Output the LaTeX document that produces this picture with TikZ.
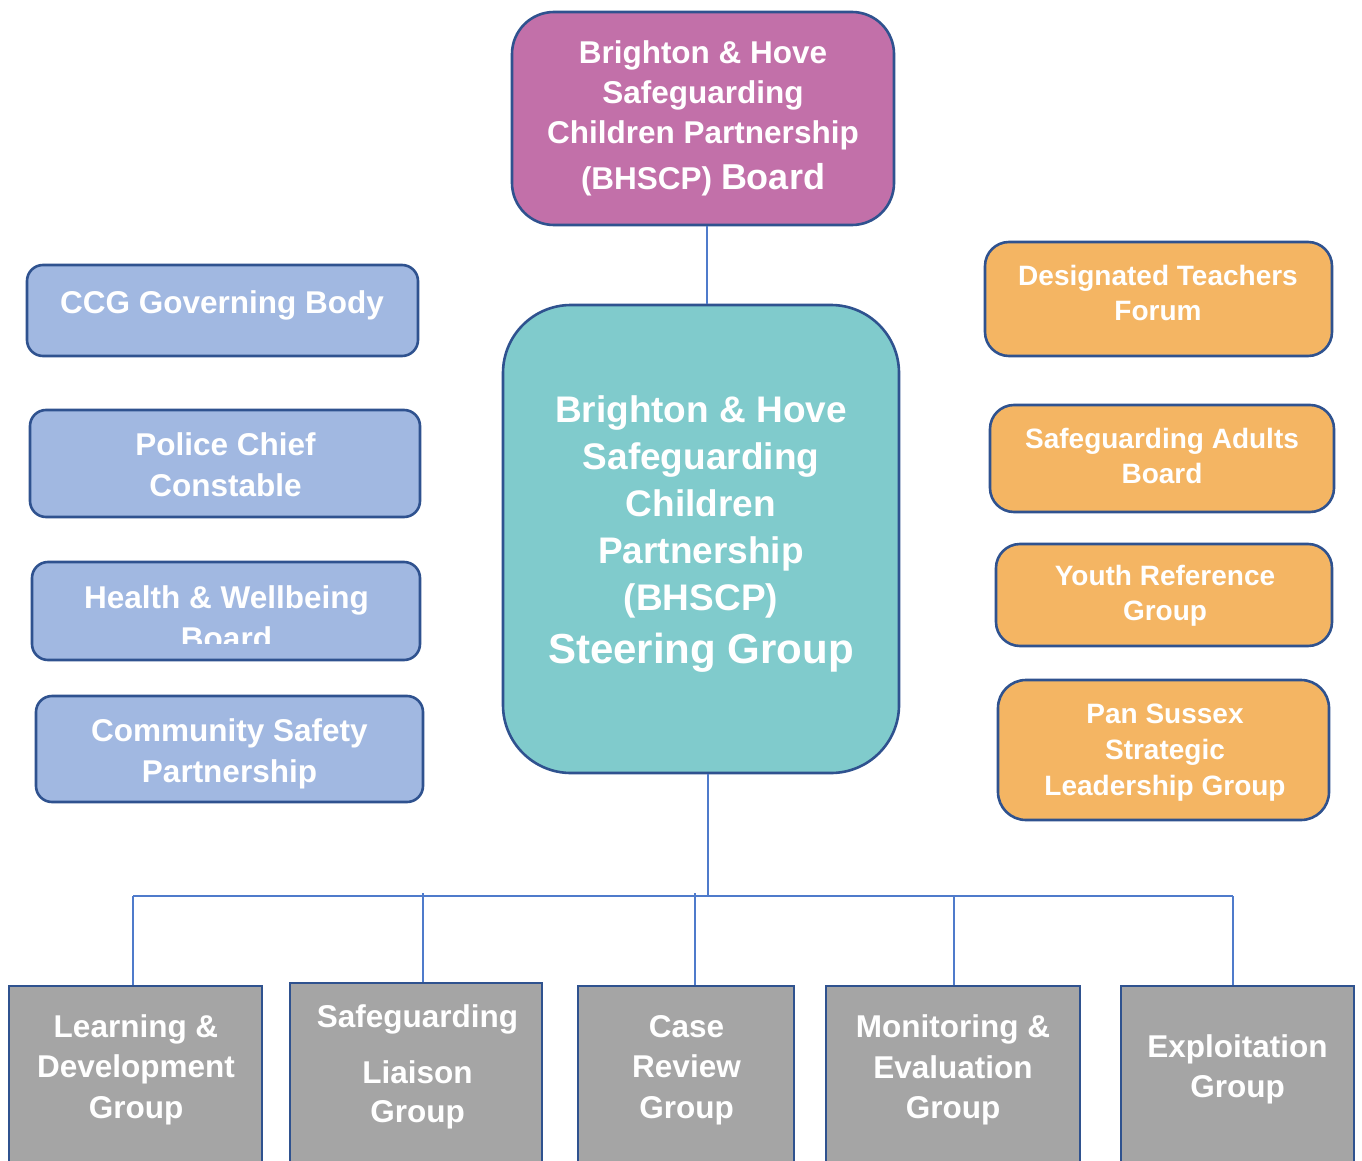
\documentclass[tikz,border=0pt]{standalone}
\usepackage{fontspec}
\setmainfont{Liberation Sans}
\definecolor{bord}{HTML}{2F528F}
\definecolor{conn}{HTML}{4F7BCB}
\definecolor{magf}{HTML}{C270A9}
\definecolor{tealf}{HTML}{80CBCC}
\definecolor{bluef}{HTML}{A1B8E1}
\definecolor{orf}{HTML}{F4B563}
\definecolor{grayf}{HTML}{A5A5A5}
\newcommand{\lns}[1]{\begin{tabular}[t]{@{}c@{}}#1\end{tabular}}
\begin{document}
\begin{tikzpicture}[x=1pt,y=-1pt,
  boxbase/.style={draw=bord, line width=2.6pt, inner sep=0pt},
  magbox/.style={boxbase, fill=magf, rounded corners=42pt},
  tealbox/.style={boxbase, fill=tealf, rounded corners=68pt},
  bluebox/.style={boxbase, fill=bluef, rounded corners=16pt},
  orbox/.style={boxbase, fill=orf, rounded corners=24pt},
  graybox/.style={boxbase, fill=grayf},
  txt/.style={text=white, inner sep=0pt, anchor=base},
  connline/.style={draw=conn, line width=1.4pt}
]
\useasboundingbox (0,0) rectangle (1362,1161);
\fill[white] (0,0) rectangle (1362,1161);

% connectors
\coordinate (j1) at (707,0);
\coordinate (hub) at (708,896);
\coordinate (d1) at (133,896);
\coordinate (d2) at (423,896);
\coordinate (d3) at (695,896);
\coordinate (d4) at (954,896);
\coordinate (d5) at (1233,896);

% boxes
\node[magbox, minimum width=382pt, minimum height=213pt] (board) at (703,118.5) {};
\node[tealbox, minimum width=396pt, minimum height=468pt] (steer) at (701,539) {};
\node[bluebox, minimum width=391pt, minimum height=91pt] (ccg) at (222.5,310.5) {};
\node[bluebox, minimum width=390pt, minimum height=107pt] (police) at (225,463.5) {};
\node[bluebox, minimum width=388pt, minimum height=98pt] (health) at (226,611) {};
\node[bluebox, minimum width=387pt, minimum height=106pt] (comm) at (229.5,749) {};
\node[orbox, minimum width=347pt, minimum height=114pt] (dtf) at (1158.5,299) {};
\node[orbox, minimum width=344pt, minimum height=107pt] (sab) at (1162,458.5) {};
\node[orbox, minimum width=336pt, minimum height=102pt] (yrg) at (1164,595) {};
\node[orbox, minimum width=331pt, minimum height=140pt, rounded corners=28pt] (pan) at (1163.5,750) {};
\node[graybox, minimum width=253pt, minimum height=184pt] (ld) at (135.5,1078) {};
\node[graybox, minimum width=252pt, minimum height=187pt] (sl) at (416,1076.5) {};
\node[graybox, minimum width=216pt, minimum height=184pt] (crg) at (686,1078) {};
\node[graybox, minimum width=254pt, minimum height=184pt] (me) at (953,1078) {};
\node[graybox, minimum width=233pt, minimum height=184pt] (ex) at (1237.5,1078) {};

% connector lines
\draw[connline] (board.south -| j1) -- (steer.north -| j1);
\draw[connline] (steer.south -| hub) -- (hub);
\draw[connline] (d1) -- (d5);
\draw[connline] (d1) -- (d1 |- ld.north);
\draw[connline] ([yshift=3pt]d2) -- (d2 |- sl.north);
\draw[connline] ([yshift=3pt]d3) -- (d3 |- crg.north);
\draw[connline] (d4) -- (d4 |- me.north);
\draw[connline] (d5) -- (d5 |- ex.north);

% texts
\node[txt, font={\bfseries\fontsize{31.5}{40}\selectfont}] (tboard) at (703,63.5)
  {\lns{Brighton \& Hove\\Safeguarding\\Children Partnership\\[6.5pt](BHSCP) {\fontsize{36}{40}\selectfont Board}}};
\node[txt, font={\bfseries\fontsize{37}{47}\selectfont}] (tsteer) at (701,422)
  {\lns{Brighton \& Hove\\Safeguarding\\Children\\Partnership\\(BHSCP)\\[6pt]{\fontsize{42}{47}\selectfont Steering Group}}};
\node[txt, font={\bfseries\fontsize{31.5}{41}\selectfont}] (tccg) at (222,313) {CCG Governing Body};
\node[txt, font={\bfseries\fontsize{31.5}{41}\selectfont}] (tpolice) at (225.5,455.5) {\lns{Police Chief\\Constable}};
\begin{scope}
\clip (30,560) rectangle (422,643.5);
\node[txt, font={\bfseries\fontsize{31.5}{41}\selectfont}] (thealth) at (226.5,608.5) {\lns{Health \& Wellbeing\\Board}};
\end{scope}
\node[txt, font={\bfseries\fontsize{31.5}{40.5}\selectfont}] (tcomm) at (229.5,741.5) {\lns{Community Safety\\Partnership}};
\node[txt, font={\bfseries\fontsize{28}{35.8}\selectfont}] (tdtf) at (1158,285) {\lns{Designated Teachers\\Forum}};
\node[txt, font={\bfseries\fontsize{28}{35.5}\selectfont}] (tsab) at (1162,448.3) {\lns{Safeguarding Adults\\Board}};
\node[txt, font={\bfseries\fontsize{28}{35.8}\selectfont}] (tyrg) at (1165,585) {\lns{Youth Reference\\Group}};
\node[txt, font={\bfseries\fontsize{28}{36}\selectfont}] (tpan) at (1165,723.3) {\lns{Pan Sussex\\Strategic\\Leadership Group}};
\node[txt, font={\bfseries\fontsize{31.5}{40.5}\selectfont}] (tld) at (136,1037) {\lns{Learning \&\\Development\\Group}};
\node[txt, font={\bfseries\fontsize{31.5}{39}\selectfont}] (tsl) at (417.5,1027) {\lns{Safeguarding\\[17pt]Liaison\\Group}};
\node[txt, font={\bfseries\fontsize{31.5}{40.5}\selectfont}] (tcrg) at (686.5,1037) {\lns{Case\\Review\\Group}};
\node[txt, font={\bfseries\fontsize{31.5}{40.5}\selectfont}] (tme) at (953,1037.5) {\lns{Monitoring \&\\Evaluation\\Group}};
\node[txt, font={\bfseries\fontsize{31.5}{40}\selectfont}] (tex) at (1237.5,1057) {\lns{Exploitation\\Group}};
\end{tikzpicture}
\end{document}
